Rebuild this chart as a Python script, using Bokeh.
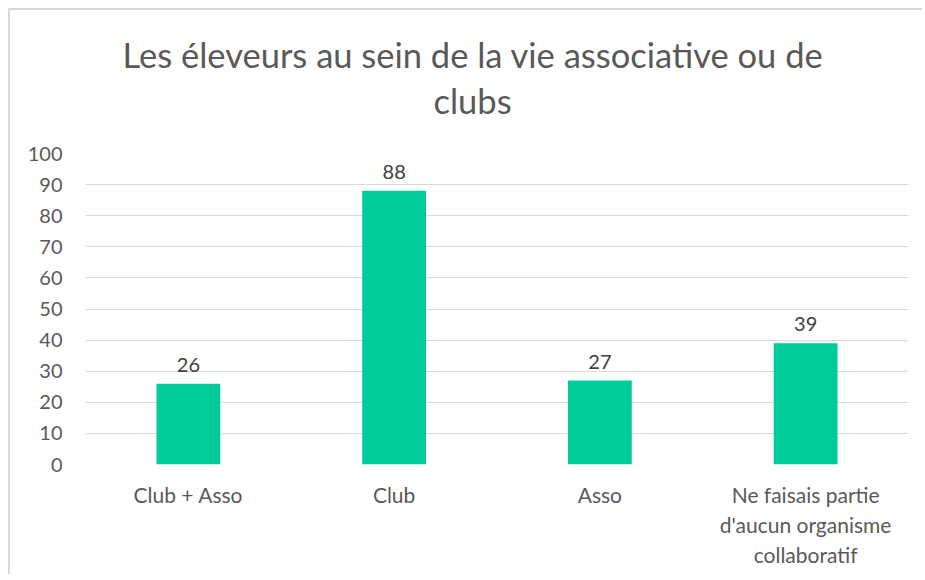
from bokeh.plotting import figure
from bokeh.models import ColumnDataSource, Range1d, FactorRange, Title, FixedTicker, CategoricalAxis
from bokeh.embed import file_html
from bokeh.resources import INLINE
from bokeh.core.properties import value

# ---- data ----
categories = ["Club + Asso", "Club", "Asso", "Ne faisais partie d'aucun organisme collaboratif"]
label_line1 = ["Club + Asso", "Club", "Asso", "Ne faisais partie"]
label_line2 = ["", "", "", "d'aucun organisme"]
label_line3 = ["", "", "", "collaboratif"]
counts = [26, 88, 27, 39]
y_ticks = list(range(0, 101, 10))
title_lines = ["Les éleveurs au sein de la vie associative ou de", "clubs"]

FONT = "Lato"
BAR = "#00CC99"
GRID = "#D9D9D9"
TXT = "#595959"

W, H = 914, 566


def unique_factors(lines):
    # blank entries become distinct runs of spaces so each factor is unique
    return [t if t else " " * (i + 1) for i, t in enumerate(lines)]


p = figure(
    width=W, height=H,
    x_range=FactorRange(*categories, range_padding=0),
    y_range=Range1d(0, 100),
    output_backend="svg", toolbar_location=None,
    min_border_left=75, min_border_right=16, min_border_top=143, min_border_bottom=112,
)
p.styles = {"margin-left": "8px", "margin-top": "8px",
            "border-left": "2px solid #D9D9D9", "border-top": "2px solid #D9D9D9"}
p.outline_line_color = None
p.background_fill_color = "white"
p.border_fill_color = "white"

src = ColumnDataSource(dict(cat=categories, val=counts, lab=[str(v) for v in counts]))
p.vbar(x="cat", top="val", width=0.31, source=src, fill_color=BAR, line_color=None)
p.text(x="cat", y="val", text="lab", source=src, text_align="center", text_baseline="alphabetic",
       y_offset=-19, text_font=value(FONT), text_font_size="20px", text_color="#404040")

# y axis
p.yaxis.ticker = FixedTicker(ticks=y_ticks)
p.yaxis.axis_line_color = None
p.yaxis.major_tick_line_color = None
p.yaxis.minor_tick_line_color = None
p.yaxis.major_tick_out = 0
p.yaxis.major_label_standoff = 23
p.yaxis.major_label_text_font = FONT
p.yaxis.major_label_text_font_size = "20px"
p.yaxis.major_label_text_color = TXT

p.xaxis.visible = False

# x labels: three stacked category axes, one per text line
for k, (lines, st) in enumerate([(label_line1, 17), (label_line2, 2), (label_line3, 2)]):
    name = f"xl{k}"
    p.extra_x_ranges[name] = FactorRange(*unique_factors(lines), range_padding=0)
    ax = CategoricalAxis(x_range_name=name)
    ax.axis_line_color = None
    ax.major_tick_line_color = None
    ax.major_tick_out = 0
    ax.major_tick_in = 0
    ax.major_label_standoff = st
    ax.major_label_text_font = FONT
    ax.major_label_text_font_size = "21px"
    ax.major_label_text_color = TXT
    p.add_layout(ax, "below")

p.xgrid.grid_line_color = None
p.ygrid.ticker = FixedTicker(ticks=y_ticks)
p.ygrid.grid_line_color = GRID
p.ygrid.grid_line_width = 1

# title, two lines (first added sits nearest the frame)
for line, st, off in zip(reversed(title_lines), [65, -58], [348, 37]):
    p.add_layout(Title(text=line, align="left", offset=off, standoff=st, text_font=FONT,
                       text_font_size="34.5px", text_font_style="normal", text_color=TXT), "above")

open("out.html", "w").write(file_html(p, INLINE))
